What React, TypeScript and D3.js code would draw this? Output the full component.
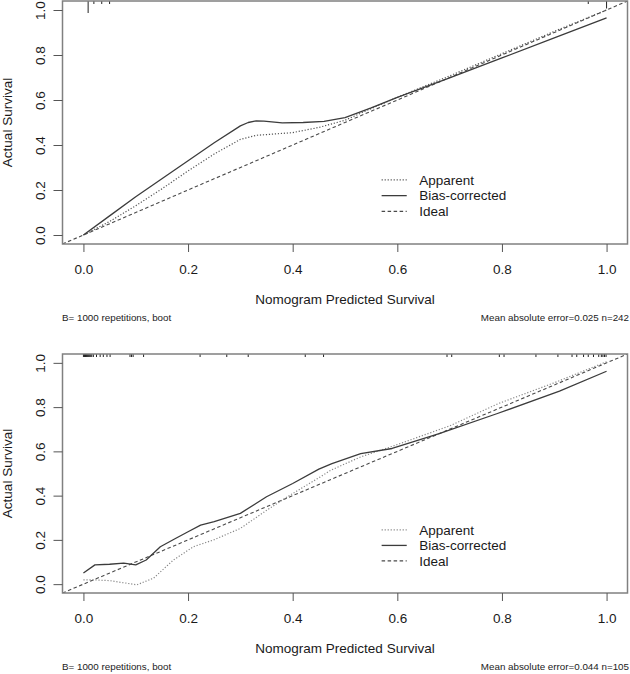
import React, { useRef, useEffect } from "react";
import * as d3 from "d3";

const WIDTH = 630;
const HEIGHT = 674;
const FONT = "'Liberation Sans', Arial, Helvetica, sans-serif";

const axisTicks = [0, 0.2, 0.4, 0.6, 0.8, 1.0];
const legendLabels = ["Apparent", "Bias-corrected", "Ideal"];

// model 1 (n=242)
const biasX1 = [0, 0.05, 0.1, 0.15, 0.2, 0.25, 0.3, 0.315, 0.33, 0.345, 0.38, 0.42, 0.46, 0.5, 0.55, 0.6, 0.65, 0.7, 0.8, 0.9, 1.0];
const biasY1 = [0, 0.085, 0.17, 0.25, 0.33, 0.41, 0.485, 0.5, 0.507, 0.506, 0.498, 0.5, 0.505, 0.522, 0.565, 0.612, 0.655, 0.698, 0.787, 0.876, 0.965];
const apparentX1 = [0, 0.05, 0.1, 0.15, 0.2, 0.25, 0.3, 0.33, 0.36, 0.4, 0.45, 0.5, 0.55, 0.6, 0.7, 0.8, 0.9, 1.0];
const apparentY1 = [0, 0.06, 0.13, 0.205, 0.285, 0.36, 0.425, 0.443, 0.448, 0.455, 0.478, 0.51, 0.562, 0.612, 0.707, 0.806, 0.905, 1.0];
const rug1 = [0.009, 0.02, 0.035, 0.05, 0.965, 1.0];
const rugCount1 = [7, 1, 1, 1, 1, 4];

// model 2 (n=105)
const biasX2 = [0, 0.022, 0.05, 0.077, 0.1, 0.12, 0.147, 0.175, 0.2, 0.224, 0.25, 0.3, 0.35, 0.4, 0.45, 0.475, 0.53, 0.59, 0.68, 0.79, 0.91, 1.0];
const biasY2 = [0.05, 0.087, 0.09, 0.095, 0.087, 0.109, 0.169, 0.205, 0.237, 0.267, 0.282, 0.32, 0.395, 0.455, 0.52, 0.545, 0.59, 0.613, 0.68, 0.77, 0.872, 0.962];
const apparentX2 = [0, 0.022, 0.05, 0.102, 0.134, 0.172, 0.21, 0.249, 0.3, 0.351, 0.39, 0.453, 0.473, 0.53, 0.587, 0.7, 0.792, 0.9, 1.0];
const apparentY2 = [0.019, 0.019, 0.016, -0.003, 0.027, 0.109, 0.169, 0.2, 0.252, 0.335, 0.395, 0.485, 0.515, 0.575, 0.62, 0.715, 0.815, 0.91, 1.005];
const rug2 = [
  0, 0.002, 0.004, 0.006, 0.008, 0.01, 0.012, 0.014, 0.016, 0.019, 0.025, 0.032, 0.038, 0.045, 0.051,
  0.089, 0.092, 0.095, 0.115, 0.223, 0.274, 0.315, 0.424, 0.459, 0.695, 0.704, 0.795, 0.804, 0.865,
  0.907, 0.934, 0.943, 0.956, 0.965, 0.975, 0.985, 0.99, 0.993, 0.996, 0.999,
];
const rugCount2 = rug2.map(() => 1);

type PanelOpts = {
  id: string;
  top: number;
  bottom: number;
  biasX: number[];
  biasY: number[];
  apparentX: number[];
  apparentY: number[];
  rug: number[];
  rugCount: number[];
  footLeft: string;
  footRight: string;
  apparentColor: string;
};

function drawPanel(svg: d3.Selection<SVGSVGElement, unknown, null, undefined>, p: PanelOpts) {
  const x = d3.scaleLinear().domain([-0.04, 1.04]).range([62.5, 627.5]);
  const y = d3.scaleLinear().domain([-0.04, 1.04]).range([p.bottom, p.top]);
  const g = svg.append("g");

  g.append("clipPath")
    .attr("id", p.id)
    .append("rect")
    .attr("x", x(-0.04))
    .attr("y", y(1.04))
    .attr("width", x(1.04) - x(-0.04))
    .attr("height", y(-0.04) - y(1.04));

  const plot = g.append("g").attr("clip-path", `url(#${p.id})`);

  const line = d3
    .line<[number, number]>()
    .x((d) => x(d[0]))
    .y((d) => y(d[1]));

  // ideal diagonal
  plot.append("path")
    .attr("d", line([[-0.04, -0.04], [1.04, 1.04]]))
    .attr("fill", "none")
    .attr("stroke", "#4a4a4a")
    .attr("stroke-width", 1.1)
    .attr("stroke-dasharray", "3.5,2.5");

  // apparent
  plot.append("path")
    .attr("d", line(p.apparentX.map((v, i) => [v, p.apparentY[i]] as [number, number])))
    .attr("fill", "none")
    .attr("stroke", p.apparentColor)
    .attr("stroke-width", 1.2)
    .attr("stroke-linejoin", "round")
    .attr("stroke-dasharray", "1.2,1.8");

  // bias-corrected
  plot.append("path")
    .attr("d", line(p.biasX.map((v, i) => [v, p.biasY[i]] as [number, number])))
    .attr("fill", "none")
    .attr("stroke", "#3c3c3c")
    .attr("stroke-linejoin", "round")
    .attr("stroke-width", 1.3);

  // rug of predicted values along the top
  plot.selectAll("line.rug")
    .data(p.rug)
    .join("line")
    .attr("class", "rug")
    .attr("x1", (d) => x(d))
    .attr("x2", (d) => x(d))
    .attr("y1", y(1.04))
    .attr("y2", (d, i) => y(1.04) + 3 + 1.5 * (p.rugCount[i] - 1))
    .attr("stroke", "#222")
    .attr("stroke-width", 1);

  // frame
  g.append("rect")
    .attr("x", x(-0.04))
    .attr("y", y(1.04))
    .attr("width", x(1.04) - x(-0.04))
    .attr("height", y(-0.04) - y(1.04))
    .attr("fill", "none")
    .attr("stroke", "#808080")
    .attr("stroke-width", 1.5);

  const fmt = d3.format(".1f");

  const xAxis = g.append("g")
    .attr("transform", `translate(0,${p.bottom})`)
    .call(d3.axisBottom(x).tickValues(axisTicks).tickFormat((d) => fmt(d as number)).tickSize(8).tickPadding(12));
  xAxis.select(".domain").remove();
  xAxis.selectAll(".tick line").attr("stroke", "#555");
  xAxis.selectAll(".tick text")
    .attr("font-family", FONT)
    .attr("font-size", 13.5)
    .attr("fill", "#1a1a1a");

  const yAxis = g.append("g")
    .attr("transform", `translate(${x(-0.04)},0)`)
    .call(d3.axisLeft(y).tickValues(axisTicks).tickFormat((d) => fmt(d as number)).tickSize(9));
  yAxis.select(".domain").remove();
  yAxis.selectAll(".tick line").attr("stroke", "#555");
  yAxis.selectAll(".tick text")
    .attr("transform", "rotate(-90)")
    .attr("x", 0)
    .attr("y", -22.5)
    .attr("dy", "0.35em")
    .attr("text-anchor", "middle")
    .attr("font-family", FONT)
    .attr("font-size", 13.5)
    .attr("fill", "#1a1a1a");

  const midX = (x(-0.04) + x(1.04)) / 2;
  const midY = (p.top + p.bottom) / 2;

  g.append("text")
    .attr("x", midX)
    .attr("y", p.bottom + 55)
    .attr("dy", "0.35em")
    .attr("text-anchor", "middle")
    .attr("font-family", FONT)
    .attr("font-size", 13.5)
    .attr("fill", "#1a1a1a")
    .text("Nomogram Predicted Survival");

  g.append("text")
    .attr("transform", `translate(7,${midY}) rotate(-90)`)
    .attr("dy", "0.35em")
    .attr("text-anchor", "middle")
    .attr("font-family", FONT)
    .attr("font-size", 13.5)
    .attr("fill", "#1a1a1a")
    .text("Actual Survival");

  g.append("text")
    .attr("x", 62)
    .attr("y", p.bottom + 74)
    .attr("dy", "0.35em")
    .attr("font-family", FONT)
    .attr("font-size", 9.8)
    .attr("fill", "#222")
    .text(p.footLeft);

  g.append("text")
    .attr("x", 629)
    .attr("y", p.bottom + 74)
    .attr("dy", "0.35em")
    .attr("text-anchor", "end")
    .attr("font-family", FONT)
    .attr("font-size", 9.8)
    .attr("fill", "#222")
    .text(p.footRight);

  // legend, placed in data units like R's legend()
  const legendRows = [0.245, 0.175, 0.105];
  const styles = [
    { color: p.apparentColor, dash: "1.2,1.8", width: 1.2 },
    { color: "#3c3c3c", dash: null, width: 1.3 },
    { color: "#4a4a4a", dash: "3.5,2.5", width: 1.1 },
  ];
  legendLabels.forEach((label, i) => {
    const ly = y(legendRows[i]);
    g.append("line")
      .attr("x1", x(0.57))
      .attr("x2", x(0.618))
      .attr("y1", ly)
      .attr("y2", ly)
      .attr("stroke", styles[i].color)
      .attr("stroke-width", styles[i].width)
      .attr("stroke-dasharray", styles[i].dash);
    g.append("text")
      .attr("x", x(0.642))
      .attr("y", ly)
      .attr("dy", "0.35em")
      .attr("font-family", FONT)
      .attr("font-size", 13.5)
      .attr("fill", "#1a1a1a")
      .text(label);
  });
}

const App = () => {
  const ref = useRef<SVGSVGElement>(null);

  useEffect(() => {
    const svg = d3.select(ref.current!);
    svg.selectAll("*").remove();

    drawPanel(svg, {
      id: "clip-top",
      top: 1,
      bottom: 244,
      biasX: biasX1,
      biasY: biasY1,
      apparentX: apparentX1,
      apparentY: apparentY1,
      rug: rug1,
      rugCount: rugCount1,
      footLeft: "B= 1000 repetitions, boot",
      footRight: "Mean absolute error=0.025 n=242",
      apparentColor: "#555",
    });

    drawPanel(svg, {
      id: "clip-bottom",
      top: 354,
      bottom: 593,
      biasX: biasX2,
      biasY: biasY2,
      apparentX: apparentX2,
      apparentY: apparentY2,
      rug: rug2,
      rugCount: rugCount2,
      footLeft: "B= 1000 repetitions, boot",
      footRight: "Mean absolute error=0.044 n=105",
      apparentColor: "#888",
    });

    return () => {
      svg.selectAll("*").remove();
    };
  }, []);

  return (
    <svg
      ref={ref}
      width={WIDTH}
      height={HEIGHT}
      style={{ position: "absolute", left: 0, top: 0, background: "#fff" }}
    />
  );
};

export default App;
